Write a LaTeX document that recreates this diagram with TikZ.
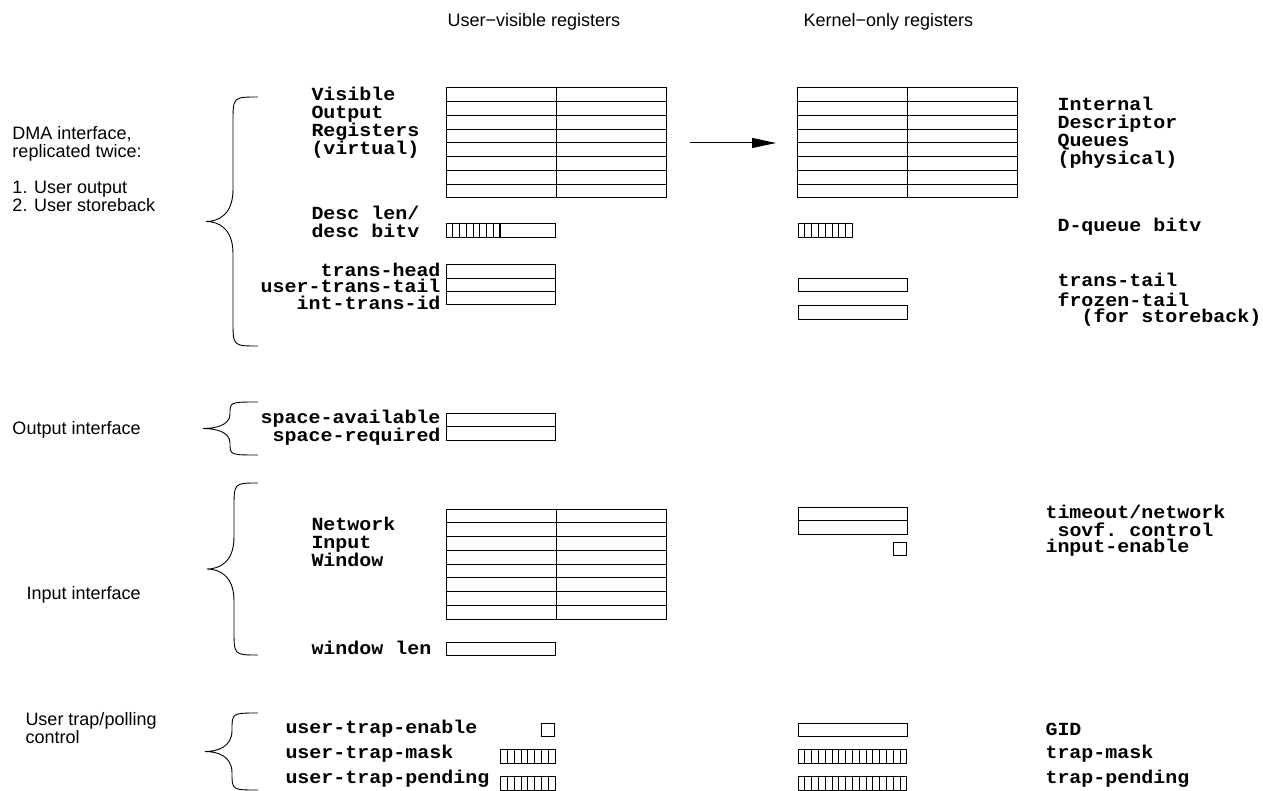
\documentclass[tikz,border=0pt]{standalone}
\usepackage{fontspec}
\setmainfont{Liberation Sans}
\setmonofont{Liberation Mono}[FakeStretch=1.08]
\usetikzlibrary{arrows.meta}

% register table: 8 rows, two columns (x, y of top-left corner)
\newcommand\regtable[2]{%
  \draw (#1,#2) rectangle ++(220,110);
  \foreach \i in {1,...,7} {\draw (#1,#2+\i*13.75) -- ++(220,0);}
  \draw (#1+110,#2) -- ++(0,110);}

% plain register box (x, y, width)
\newcommand\regbox[3]{\draw (#1,#2) rectangle ++(#3,13.5);}

% bit-vector register (x, y, number of bits)
\newcommand\bitreg[3]{%
  \draw (#1,#2) rectangle ++(#3*6.8,13.5);
  \foreach \i in {1,...,#3} {\draw (#1+\i*6.8,#2) -- ++(0,13.5);}}

% curly brace opening to the right (end x, top y, bottom y, tip x)
\newcommand\curlybrace[4]{%
  \pgfmathsetmacro\bm{(#2+#3)/2}%
  \pgfmathsetmacro\bh{(#3-#2)/2}%
  \pgfmathsetmacro\bv{#4+27}%
  \pgfmathsetmacro\ba{min(25,0.45*\bh)}%
  \pgfmathsetmacro\bb{min(32,0.55*\bh)}%
  \draw[line width=0.9pt]
    (#1,#2) .. controls (\bv,#2) .. (\bv,#2+\ba)
    -- (\bv,\bm-\bb) .. controls (\bv,\bm-0.2*\bb) and (#4+12,\bm) .. (#4,\bm)
    .. controls (#4+12,\bm) and (\bv,\bm+0.2*\bb) .. (\bv,\bm+\bb)
    -- (\bv,#3-\ba) .. controls (\bv,#3) .. (#1,#3);}

\begin{document}
\begin{tikzpicture}[x=1pt,y=-1pt,line width=1pt,
  lbl/.style={font=\fontsize{18}{18}\selectfont,inner sep=0pt,align=left,anchor=west},
  reg/.style={font=\fontsize{18.5}{18}\selectfont\ttfamily\bfseries,inner sep=0pt,align=left,anchor=west},
  regr/.style={reg,anchor=east,align=right}]
\useasboundingbox (0,0) rectangle (1263,791);

% column headings
\node[lbl] (hUser) at (447,22) {User−visible registers};
\node[lbl] (hKern) at (803,22) {Kernel−only registers};

% group labels
\node[lbl] (gDma) at (12,169.5) {DMA interface,\\replicated twice:\\[18pt]1. User output\\2. User storeback};
\node[lbl] (gOut) at (12,430) {Output interface};
\node[lbl] (gIn) at (26,595) {Input interface};
\node[lbl] (gTrap) at (25,728.5) {User trap/polling\\control};

% braces
\curlybrace{258}{97}{346}{206}
\curlybrace{258}{402}{455}{203}
\curlybrace{258}{483}{655}{207}
\curlybrace{258}{713}{790}{205}

% ---- DMA interface ----
\node[reg] (lVis) at (311,123) {Visible\\Output\\Registers\\(virtual)};
\regtable{446}{88}
\regtable{797}{88}
\node[reg] (lIdq) at (1057,133) {Internal\\Descriptor\\Queues\\(physical)};
\coordinate (aS) at (690,143);
\coordinate (aE) at (776,143);
\draw[-{Triangle[length=24pt,width=10pt]}] (aS) -- (aE);

\node[reg] (lDesc) at (311,222) {Desc len/\\desc bitv};
\regbox{446}{224}{109}
\foreach \i in {1,...,7} {\draw (446+\i*6.75,224) -- ++(0,13.5);}
\draw[line width=1.6pt] (500,224) -- ++(0,13.5);
\bitreg{798}{224}{8}
\node[reg] (lDqb) at (1057,227) {D-queue bitv};

\node[regr] (lTh) at (441,270) {trans-head};
\node[regr] (lUtt) at (441,286) {user-trans-tail};
\node[regr] (lItid) at (441,303) {int-trans-id};
\draw (446,265) rectangle (555,305);
\draw (446,278.3) -- (555,278.3);
\draw (446,291.7) -- (555,291.7);
\regbox{798}{278.5}{109}
\regbox{798}{306}{109}
\node[reg] (lTt) at (1057,280) {trans-tail};
\node[reg] (lFt) at (1057,300) {frozen-tail};
\node[reg] (lFs) at (1081,318) {(for storeback)};

% ---- Output interface ----
\node[regr] (lSa) at (441,419) {space-available};
\node[regr] (lSr) at (441,437) {space-required};
\draw (446,413) rectangle (555,440);
\draw (446,426.5) -- (555,426.5);

% ---- Input interface ----
\node[reg] (lNiw) at (311,542) {Network\\Input\\Window};
\regtable{446}{509}
\draw (798,507) rectangle (907,534);
\draw (798,520.5) -- (907,520.5);
\draw (893,542) rectangle ++(13.5,13.5);
\node[reg] (lTo) at (1045,512) {timeout/network};
\node[reg] (lSc) at (1057,530) {sovf. control};
\node[reg] (lIe) at (1045,548) {input-enable};
\node[reg] (lWl) at (311,648) {window len};
\regbox{446}{642}{109}

% ---- User trap/polling control ----
\node[reg] (lUte) at (285,729) {user-trap-enable};
\node[reg] (lUtm) at (285,754) {user-trap-mask};
\node[reg] (lUtp) at (285,779) {user-trap-pending};
\draw (541,723) rectangle ++(13.5,13.5);
\bitreg{500.6}{749.5}{8}
\bitreg{500.6}{776.5}{8}
\regbox{798}{723}{109}
\bitreg{798}{749.5}{16}
\bitreg{798}{776.5}{16}
\node[reg] (lGid) at (1045,729) {GID};
\node[reg] (lTm) at (1045,754) {trap-mask};
\node[reg] (lTp) at (1045,779) {trap-pending};
\end{tikzpicture}
\end{document}
